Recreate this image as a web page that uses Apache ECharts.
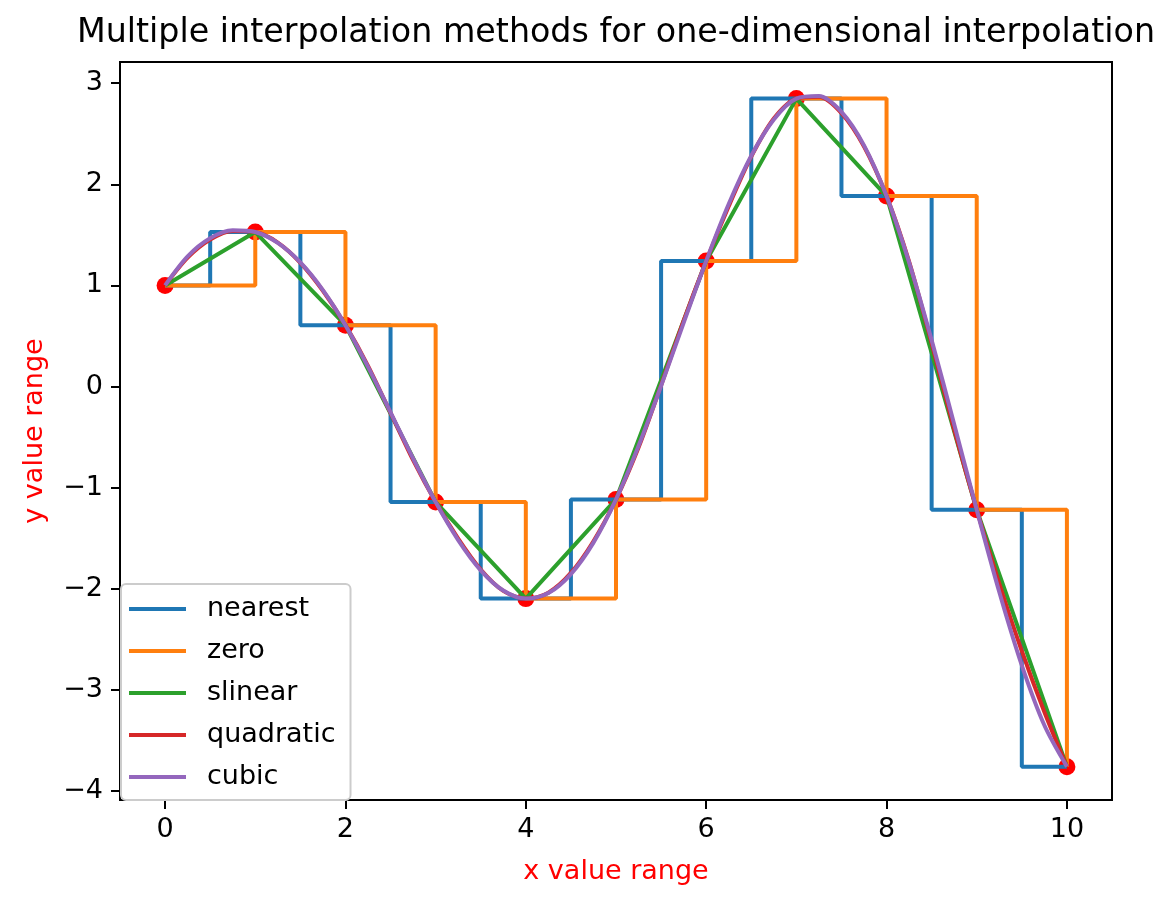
<!DOCTYPE html>
<html>
<head>
<meta charset="utf-8">
<script src="https://cdn.jsdelivr.net/npm/echarts@6/dist/echarts.min.js"></script>
<style>
html,body{margin:0;padding:0;background:#fff;}
#chart{width:1175px;height:908px;}
</style>
</head>
<body>
<div id="chart"></div>
<script>
// ---- data ----
const pointX = [0, 1, 2, 3, 4, 5, 6, 7, 8, 9, 10];
const pointY = [1.00, 1.528, 0.607, -1.143, -2.098, -1.117, 1.242, 2.848, 1.884, -1.22, -3.76];

const fineX = [0, 0.25, 0.5, 0.75, 1, 1.25, 1.5, 1.75, 2, 2.25, 2.5, 2.75, 3, 3.25, 3.5, 3.75,
  4, 4.25, 4.5, 4.75, 5, 5.25, 5.5, 5.75, 6, 6.25, 6.5, 6.75, 7, 7.25, 7.5, 7.75,
  8, 8.25, 8.5, 8.75, 9, 9.25, 9.5, 9.75, 10];
const quadraticY = [1.000, 1.274, 1.453, 1.538, 1.528, 1.424, 1.224, 0.947, 0.607, 0.205, -0.260, -0.728,
  -1.143, -1.504, -1.810, -2.022, -2.098, -2.039, -1.844, -1.531, -1.117, -0.603, 0.012, 0.652,
  1.242, 1.783, 2.274, 2.651, 2.848, 2.866, 2.704, 2.374, 1.884, 1.235, 0.428, -0.428,
  -1.220, -1.949, -2.616, -3.219, -3.760];
const cubicY = [1.000, 1.287, 1.466, 1.545, 1.528, 1.420, 1.227, 0.954, 0.607, 0.195, -0.255, -0.712,
  -1.143, -1.519, -1.818, -2.018, -2.098, -2.043, -1.855, -1.544, -1.117, -0.589, 0.006, 0.630,
  1.242, 1.805, 2.283, 2.642, 2.848, 2.873, 2.716, 2.385, 1.884, 1.228, 0.459, -0.373,
  -1.220, -2.032, -2.758, -3.351, -3.760];

const seriesNames = ['nearest', 'zero', 'slinear', 'quadratic', 'cubic'];
const seriesColors = ['#1f77b4', '#ff7f0e', '#2ca02c', '#d62728', '#9467bd'];
const xTicks = [0, 2, 4, 6, 8, 10];
const yTicks = [-4, -3, -2, -1, 0, 1, 2, 3];

const titleText = 'Multiple interpolation methods for one-dimensional interpolation';
const xName = 'x value range';
const yName = 'y value range';

// ---- build ----
const zip = (xs, ys) => xs.map((x, i) => [x, ys[i]]);
const FONT = "'DejaVu Sans', sans-serif";
const minus = v => String(v).replace('-', '\u2212');

const chart = echarts.init(document.getElementById('chart'), null, {renderer: 'canvas'});

const lineBase = (name, idx, data, extra) => Object.assign({
  name: name,
  type: 'line',
  data: data,
  symbol: 'none',
  showSymbol: false,
  lineStyle: {width: 4, color: seriesColors[idx]},
  itemStyle: {color: seriesColors[idx]},
  animation: false,
  clip: true
}, extra || {});

const option = {
  animation: false,
  backgroundColor: '#ffffff',
  grid: {
    left: 120, right: 63, top: 62, bottom: 108,
    show: true, borderColor: '#000', borderWidth: 2, backgroundColor: 'transparent',
    containLabel: false
  },
  xAxis: {
    type: 'value', min: -0.5, max: 10.5,
    axisLine: {show: false, onZero: false},
    splitLine: {show: false},
    axisTick: {show: true, inside: false, customValues: xTicks, length: 9, lineStyle: {color: '#000', width: 2}},
    axisLabel: {customValues: xTicks, fontSize: 27, color: '#000', fontFamily: FONT, margin: 16,
      formatter: minus}
  },
  yAxis: {
    type: 'value', min: -4.09, max: 3.21,
    axisLine: {show: false, onZero: false},
    splitLine: {show: false},
    axisTick: {show: true, inside: false, customValues: yTicks, length: 9, lineStyle: {color: '#000', width: 2}},
    axisLabel: {customValues: yTicks, fontSize: 27, color: '#000', fontFamily: FONT, margin: 17,
      formatter: minus}
  },
  legend: {
    orient: 'vertical',
    left: 121, top: 584,
    data: seriesNames.map(n => ({name: n, icon: 'rect'})),
    itemWidth: 57, itemHeight: 4, itemGap: 12,
    padding: [10, 15, 8, 8],
    backgroundColor: '#ffffff',
    borderColor: '#cccccc', borderWidth: 2, borderRadius: 5,
    selectedMode: false,
    textStyle: {fontSize: 27, color: '#000', fontFamily: FONT, lineHeight: 30, padding: [0, 0, 0, 16]}
  },
  graphic: [
    {type: 'text', x: 616, y: 33, style: {text: titleText, font: "33.3px 'DejaVu Sans'", fill: '#000',
      textAlign: 'center', textVerticalAlign: 'middle'}},
    {type: 'text', x: 616, y: 872, style: {text: xName, font: "27px 'DejaVu Sans'", fill: '#ff0000',
      textAlign: 'center', textVerticalAlign: 'middle'}},
    {type: 'text', x: 35, y: 431, rotation: Math.PI / 2, style: {text: yName, font: "27px 'DejaVu Sans'",
      fill: '#ff0000', textAlign: 'center', textVerticalAlign: 'middle'}}
  ],
  series: [
    {
      name: 'points', type: 'scatter', data: zip(pointX, pointY),
      symbol: 'circle', symbolSize: 17, itemStyle: {color: '#ff0000', opacity: 1},
      animation: false, z: 2
    },
    lineBase(seriesNames[0], 0, zip(pointX, pointY), {step: 'middle'}),
    lineBase(seriesNames[1], 1, zip(pointX, pointY), {step: 'end'}),
    lineBase(seriesNames[2], 2, zip(pointX, pointY)),
    lineBase(seriesNames[3], 3, zip(fineX, quadraticY), {smooth: 0.3}),
    lineBase(seriesNames[4], 4, zip(fineX, cubicY), {smooth: 0.3})
  ]
};
chart.setOption(option);
</script>
</body>
</html>
